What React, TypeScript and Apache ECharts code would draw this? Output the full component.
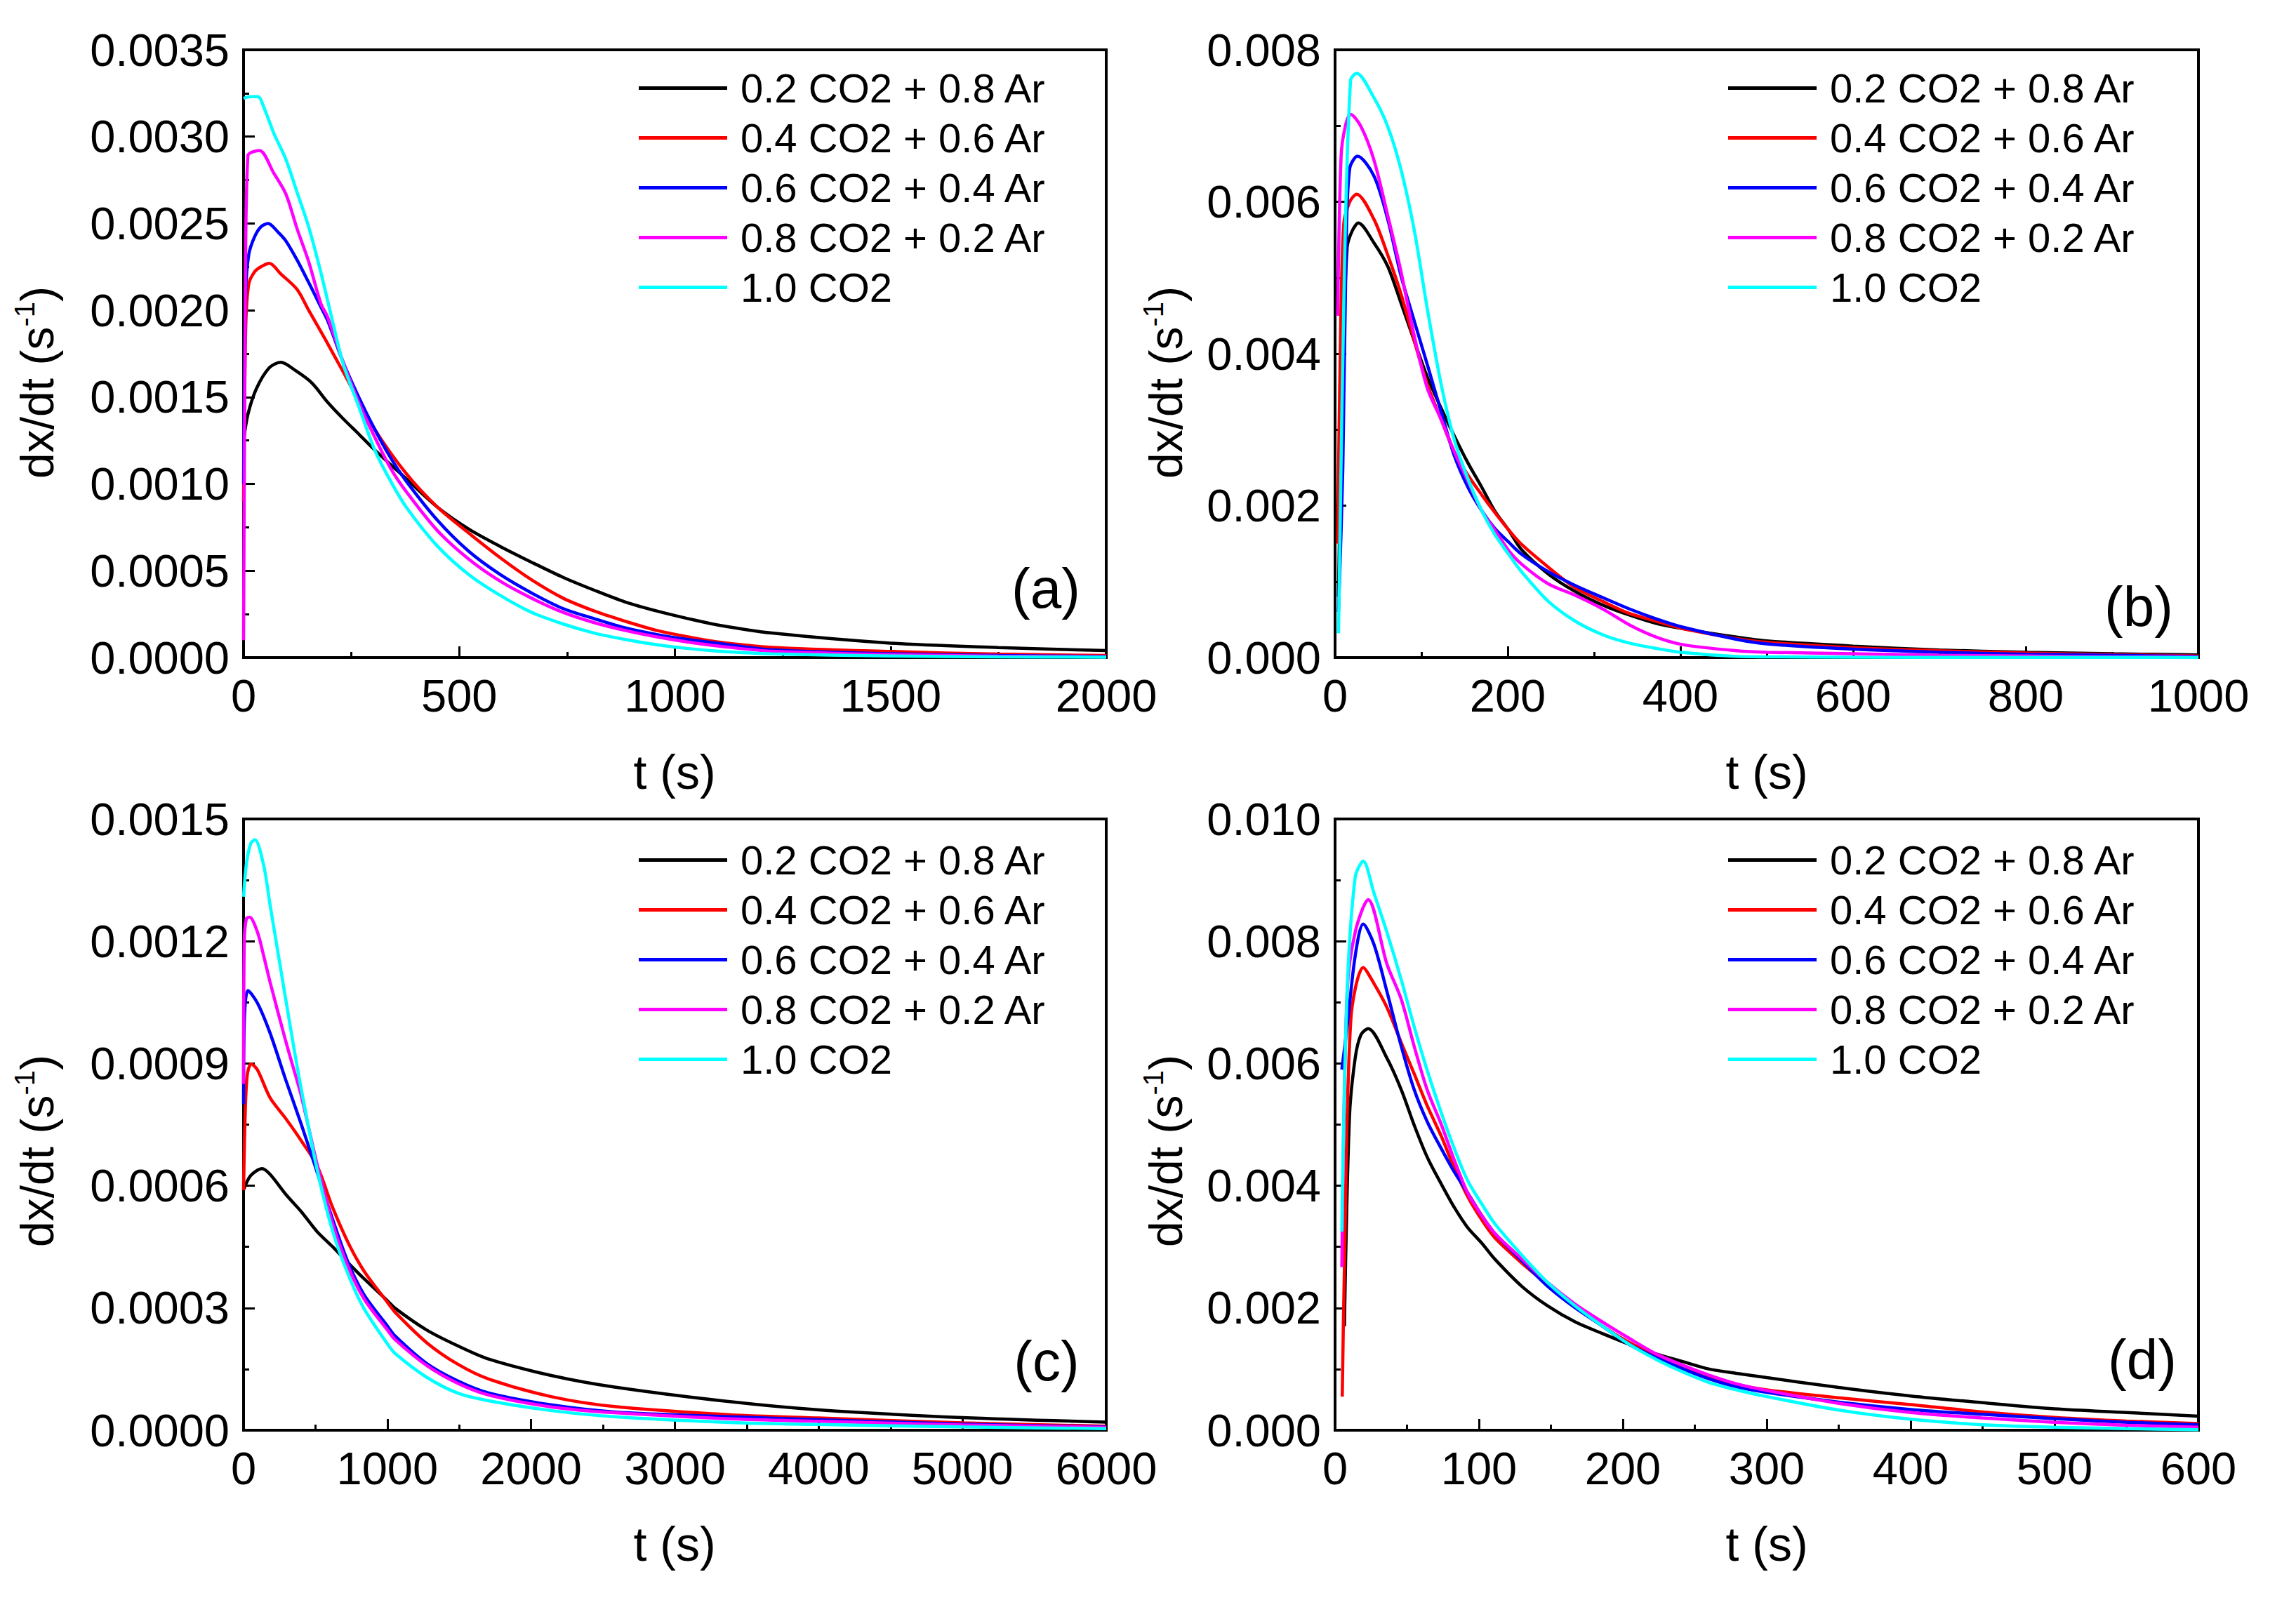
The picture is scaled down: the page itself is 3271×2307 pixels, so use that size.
import React, { useEffect, useRef } from "react";
import * as echarts from "echarts";

// ---------- data ----------
const SERIES_NAMES = ["0.2 CO2 + 0.8 Ar", "0.4 CO2 + 0.6 Ar", "0.6 CO2 + 0.4 Ar", "0.8 CO2 + 0.2 Ar", "1.0 CO2"];
const COLORS = ["#000000", "#ff0000", "#0000ff", "#ff00ff", "#00ffff"];
const PANEL_LABELS = ["(a)", "(b)", "(c)", "(d)"];
const X_TITLE = "t (s)";

// panel (a): [t (s), dx/dt x 1e-3]
const A_BLACK = [[0,1.25],[10,1.4],[30,1.55],[60,1.67],[86,1.7],[122,1.65],[159,1.58],[195,1.47],[231,1.375],[268,1.285],[304,1.196],[377,1.03],[449,0.867],[522,0.74],[595,0.64],[667,0.55],[740,0.463],[813,0.388],[885,0.32],[958,0.268],[1031,0.224],[1103,0.186],[1225,0.141],[1500,0.083],[1750,0.058],[2000,0.04]];
const A_RED = [[0,0.9],[5,1.9],[12,2.15],[25,2.22],[40,2.25],[60,2.27],[86,2.21],[124,2.12],[151,2.0],[190,1.83],[231,1.645],[304,1.315],[377,1.06],[449,0.867],[522,0.717],[595,0.575],[667,0.449],[740,0.343],[813,0.268],[885,0.209],[958,0.156],[1031,0.119],[1103,0.089],[1225,0.059],[1500,0.035],[1750,0.02],[2000,0.012]];
const A_BLUE = [[0,1.0],[5,2.1],[12,2.32],[25,2.42],[40,2.48],[57,2.5],[80,2.45],[98,2.4],[124,2.29],[151,2.16],[179,2.02],[195,1.94],[231,1.7],[268,1.495],[304,1.315],[341,1.15],[377,1.016],[449,0.792],[522,0.612],[595,0.478],[667,0.373],[740,0.283],[813,0.224],[885,0.171],[958,0.133],[1031,0.104],[1103,0.081],[1225,0.044],[1500,0.022],[1750,0.012],[2000,0.006]];
const A_MAGENTA = [[0,0.1],[4,2.0],[10,2.89],[37,2.92],[70,2.79],[98,2.67],[124,2.47],[151,2.28],[179,2.04],[195,1.96],[231,1.7],[268,1.465],[304,1.27],[341,1.09],[377,0.956],[449,0.732],[522,0.567],[595,0.44],[667,0.343],[740,0.261],[813,0.201],[885,0.156],[958,0.119],[1031,0.089],[1103,0.066],[1225,0.036],[1500,0.017],[1750,0.008],[2000,0.004]];
const A_CYAN = [[0,3.22],[15,3.23],[33,3.23],[50,3.15],[70,3.02],[98,2.87],[124,2.68],[151,2.48],[179,2.22],[205,1.95],[231,1.69],[268,1.44],[304,1.196],[341,1.016],[377,0.867],[449,0.643],[522,0.478],[595,0.358],[667,0.261],[740,0.194],[813,0.141],[885,0.104],[958,0.074],[1031,0.052],[1103,0.036],[1225,0.021],[1500,0.009],[1750,0.004],[2000,0.002]];

// panel (b): [t (s), dx/dt x 1e-3]
const B_BLACK = [[4,0.8],[8,3.5],[14,5.4],[20,5.62],[27,5.72],[45,5.46],[61,5.15],[76,4.68],[92,4.16],[107,3.69],[123,3.28],[138,2.92],[154,2.56],[170,2.24],[185,1.93],[201,1.68],[216,1.42],[247,1.1],[278,0.87],[310,0.69],[341,0.56],[372,0.45],[403,0.38],[465,0.27],[500,0.22],[600,0.15],[700,0.1],[800,0.07],[900,0.05],[1000,0.035]];
const B_RED = [[3,1.5],[6,4.0],[10,5.7],[17,6.0],[25,6.1],[45,5.77],[61,5.3],[76,4.8],[92,4.16],[107,3.59],[123,3.13],[138,2.71],[154,2.4],[170,2.14],[185,1.91],[201,1.68],[216,1.49],[247,1.19],[278,0.92],[310,0.74],[341,0.58],[372,0.48],[403,0.38],[465,0.25],[500,0.2],[600,0.13],[700,0.09],[800,0.06],[900,0.04],[1000,0.02]];
const B_BLUE = [[4,0.6],[9,2.5],[13,5.5],[17,6.44],[26,6.6],[45,6.34],[61,5.77],[76,5.04],[92,4.42],[107,3.85],[123,3.23],[138,2.66],[154,2.24],[170,1.93],[185,1.7],[201,1.52],[216,1.36],[247,1.13],[278,0.95],[310,0.79],[341,0.64],[372,0.51],[403,0.4],[465,0.24],[500,0.18],[600,0.11],[700,0.07],[800,0.045],[900,0.03],[1000,0.015]];
const B_MAGENTA = [[3,4.5],[7,6.6],[12,7.0],[18,7.15],[30,6.99],[45,6.55],[61,5.82],[76,5.1],[92,4.22],[107,3.54],[123,3.13],[138,2.71],[154,2.32],[170,1.93],[185,1.68],[201,1.41],[216,1.23],[247,0.97],[278,0.82],[310,0.64],[341,0.43],[372,0.27],[403,0.17],[465,0.09],[500,0.07],[600,0.05],[700,0.03],[800,0.02],[900,0.01],[1000,0.007]];
const B_CYAN = [[4,0.32],[11,5.2],[18,7.6],[25,7.69],[45,7.37],[61,6.99],[76,6.44],[92,5.61],[107,4.58],[123,3.59],[138,2.87],[154,2.35],[170,1.93],[185,1.62],[201,1.36],[216,1.13],[247,0.74],[278,0.48],[310,0.3],[341,0.19],[372,0.12],[403,0.066],[465,0.015],[500,0.01],[600,0.005],[800,0.002],[1000,0.001]];

// panel (c): [t (s), dx/dt x 1e-4]
const C_BLACK = [[0,5.9],[50,6.25],[129,6.42],[184,6.28],[293,5.79],[402,5.36],[510,4.88],[620,4.5],[729,4.1],[837,3.72],[1000,3.18],[1055,2.99],[1273,2.46],[1490,2.07],[1709,1.74],[2145,1.34],[2580,1.06],[3383,0.7],[4000,0.5],[5000,0.31],[6000,0.2]];
const C_RED = [[0,5.89],[10,7.6],[25,8.7],[53,8.99],[97,8.84],[184,8.16],[293,7.65],[402,7.1],[510,6.5],[620,5.46],[729,4.59],[837,3.91],[1000,3.14],[1055,2.89],[1273,2.15],[1490,1.62],[1709,1.25],[2145,0.82],[2580,0.58],[3383,0.38],[4000,0.3],[5000,0.18],[6000,0.1]];
const C_BLUE = [[0,8.0],[5,10.0],[31,10.79],[97,10.48],[184,9.75],[293,8.6],[402,7.5],[510,6.35],[620,5.17],[729,4.1],[837,3.33],[1000,2.56],[1055,2.31],[1273,1.64],[1490,1.21],[1709,0.91],[2145,0.62],[2580,0.45],[3383,0.33],[4000,0.26],[5000,0.15],[6000,0.08]];
const C_MAGENTA = [[0,8.5],[5,12.0],[20,12.56],[42,12.59],[97,12.22],[140,11.64],[184,11.0],[293,9.55],[358,8.75],[402,8.2],[510,6.55],[620,5.07],[729,4.0],[837,3.23],[1000,2.46],[1055,2.22],[1273,1.59],[1490,1.15],[1709,0.86],[2145,0.57],[2580,0.43],[3383,0.28],[4000,0.22],[5000,0.13],[6000,0.07]];
const C_CYAN = [[0,13.09],[20,13.9],[50,14.4],[79,14.49],[140,13.86],[184,12.9],[293,10.58],[358,9.22],[402,8.36],[510,6.42],[620,4.88],[729,3.81],[837,2.99],[1000,2.12],[1055,1.88],[1273,1.3],[1490,0.91],[1709,0.72],[2145,0.48],[2580,0.33],[3383,0.19],[4000,0.14],[5000,0.08],[6000,0.04]];

// panel (d): [t (s), dx/dt x 1e-3]
const D_BLACK = [[6.5,1.7],[10,5.12],[14,6.09],[18,6.47],[23,6.57],[36,6.09],[46,5.57],[55,4.99],[64,4.47],[74,4.02],[83,3.64],[92,3.32],[102,3.06],[111,2.8],[130,2.35],[148,2.03],[167,1.77],[186,1.58],[204,1.41],[223,1.25],[242,1.12],[260,1.0],[279,0.93],[300,0.86],[350,0.7],[400,0.56],[450,0.45],[500,0.35],[550,0.29],[600,0.23]];
const D_RED = [[5,0.55],[6.5,2.67],[11,6.73],[19.6,7.57],[27,7.31],[36,6.92],[46,6.34],[55,5.83],[64,5.31],[74,4.8],[83,4.28],[92,3.83],[102,3.44],[111,3.15],[130,2.73],[148,2.38],[167,2.03],[186,1.7],[204,1.44],[223,1.22],[242,1.03],[260,0.87],[279,0.75],[300,0.66],[350,0.53],[400,0.42],[450,0.3],[500,0.21],[550,0.15],[600,0.11]];
const D_BLUE = [[4.7,5.9],[8.4,6.6],[14,7.76],[19.6,8.28],[27,7.95],[36,7.18],[46,6.28],[55,5.57],[64,5.05],[74,4.6],[83,4.22],[92,3.89],[102,3.51],[111,3.22],[130,2.77],[148,2.35],[167,2.0],[186,1.7],[204,1.41],[223,1.19],[242,1.0],[260,0.84],[279,0.71],[300,0.62],[350,0.46],[400,0.34],[450,0.26],[500,0.19],[550,0.13],[600,0.09]];
const D_MAGENTA = [[4.7,2.67],[8.4,7.18],[14,8.15],[23,8.68],[36,7.63],[46,7.05],[55,6.28],[64,5.57],[74,4.99],[83,4.41],[92,3.89],[102,3.51],[111,3.22],[130,2.8],[148,2.41],[167,2.06],[186,1.77],[204,1.51],[223,1.25],[242,1.06],[260,0.9],[279,0.76],[300,0.65],[350,0.44],[400,0.29],[450,0.2],[500,0.13],[550,0.08],[600,0.05]];
const D_CYAN = [[4.7,3.25],[8.4,7.18],[14,9.05],[19.6,9.31],[27,8.79],[36,8.15],[46,7.37],[55,6.6],[64,5.89],[74,5.18],[83,4.6],[92,4.09],[102,3.7],[111,3.38],[130,2.86],[148,2.41],[167,2.03],[186,1.7],[204,1.41],[223,1.16],[242,0.95],[260,0.78],[279,0.66],[300,0.55],[350,0.33],[400,0.18],[450,0.09],[500,0.05],[550,0.025],[600,0.01]];

const PANEL_CURVES = [
  [A_BLACK, A_RED, A_BLUE, A_MAGENTA, A_CYAN],
  [B_BLACK, B_RED, B_BLUE, B_MAGENTA, B_CYAN],
  [C_BLACK, C_RED, C_BLUE, C_MAGENTA, C_CYAN],
  [D_BLACK, D_RED, D_BLUE, D_MAGENTA, D_CYAN],
];
const VALUE_SCALE = [1e-3, 1e-3, 1e-4, 1e-3];
const X_MAX = [2000, 1000, 6000, 600];
const X_INTERVAL = [500, 200, 1000, 100];
const Y_MAX = [0.0035, 0.008, 0.0015, 0.01];
const Y_INTERVAL = [0.0005, 0.002, 0.0003, 0.002];
const Y_DECIMALS = [4, 3, 4, 3];

// ---------- layout ----------
const W = 3271;
const H = 2307;
const FONT = "'Liberation Sans', Arial, sans-serif";
const GRIDS = [
  { left: 347, top: 71, width: 1229, height: 866 },
  { left: 1902, top: 71, width: 1230, height: 866 },
  { left: 347, top: 1167, width: 1229, height: 871 },
  { left: 1902, top: 1167, width: 1230, height: 871 },
];
const LEGEND_POS = [
  { left: 910, top: 90 },
  { left: 2462, top: 90 },
  { left: 910, top: 1190 },
  { left: 2462, top: 1190 },
];
const Y_TITLE_POS = [
  { x: 53, y: 545 },
  { x: 1661, y: 545 },
  { x: 53, y: 1640 },
  { x: 1661, y: 1640 },
];
const X_TITLE_POS = [
  { x: 961, y: 1100 },
  { x: 2517, y: 1100 },
  { x: 961, y: 2200 },
  { x: 2517, y: 2200 },
];
const LABEL_POS = [
  { x: 1490, y: 838 },
  { x: 3047, y: 864 },
  { x: 1491, y: 1939 },
  { x: 3052, y: 1937 },
];

function buildOption() {
  const grid = GRIDS.map((g) => ({
    ...g,
    show: true,
    borderColor: "#000",
    borderWidth: 4,
    backgroundColor: "transparent",
  }));

  const tickStyle = { color: "#000", width: 3 };
  const xAxis = GRIDS.map((_, i) => ({
    type: "value",
    gridIndex: i,
    min: 0,
    max: X_MAX[i],
    interval: X_INTERVAL[i],
    axisLine: { show: true, onZero: false, lineStyle: { color: "#000", width: 4 } },
    axisTick: { show: true, inside: true, length: 16, lineStyle: tickStyle },
    minorTick: { show: true, splitNumber: 2, length: 8, lineStyle: tickStyle },
    splitLine: { show: false },
    minorSplitLine: { show: false },
    axisLabel: {
      color: "#000",
      fontSize: 65,
      fontFamily: FONT,
      margin: 22,
      formatter: (v: number) => String(v),
    },
  }));
  const yAxis = GRIDS.map((_, i) => ({
    type: "value",
    gridIndex: i,
    min: 0,
    max: Y_MAX[i],
    interval: Y_INTERVAL[i],
    axisLine: { show: true, onZero: false, lineStyle: { color: "#000", width: 4 } },
    axisTick: { show: true, inside: true, length: 16, lineStyle: tickStyle },
    minorTick: { show: true, splitNumber: 2, length: 8, lineStyle: tickStyle },
    splitLine: { show: false },
    minorSplitLine: { show: false },
    axisLabel: {
      color: "#000",
      fontSize: 65,
      fontFamily: FONT,
      margin: 20,
      formatter: (v: number) => v.toFixed(Y_DECIMALS[i]),
    },
  }));

  const series: any[] = [];
  PANEL_CURVES.forEach((curves, i) => {
    curves.forEach((pts, k) => {
      series.push({
        type: "line",
        name: SERIES_NAMES[k],
        xAxisIndex: i,
        yAxisIndex: i,
        data: pts.map(([t, v]) => [t, v * VALUE_SCALE[i]]),
        symbol: "none",
        showSymbol: false,
        smooth: 0.3,
        lineStyle: { color: COLORS[k], width: 4.5 },
        itemStyle: { color: COLORS[k] },
        z: 2 + k,
      });
    });
  });

  const legend = LEGEND_POS.map((p) => ({
    orient: "vertical",
    left: p.left,
    top: p.top,
    padding: 0,
    itemGap: 0,
    icon: "rect",
    itemWidth: 126,
    itemHeight: 5,
    selectedMode: false,
    data: SERIES_NAMES,
    textStyle: {
      color: "#000",
      fontSize: 58,
      fontFamily: FONT,
      lineHeight: 71,
      padding: [0, 0, 0, 14],
    },
  }));

  const graphic: any[] = [];
  Y_TITLE_POS.forEach((p) => {
    graphic.push({
      type: "text",
      x: p.x,
      y: p.y,
      rotation: Math.PI / 2,
      style: {
        text: "{m|dx/dt (s}{s|-1}{m|)}",
        rich: {
          m: { fontSize: 66, fontFamily: FONT, fill: "#000", lineHeight: 76 },
          s: { fontSize: 40, fontFamily: FONT, fill: "#000", verticalAlign: "top", lineHeight: 40 },
        },
        align: "center",
        verticalAlign: "middle",
        textAlign: "center",
        textVerticalAlign: "middle",
      },
    });
  });
  X_TITLE_POS.forEach((p) => {
    graphic.push({
      type: "text",
      x: p.x,
      y: p.y,
      style: {
        text: X_TITLE,
        fontSize: 68,
        fontFamily: FONT,
        fill: "#000",
        align: "center",
        verticalAlign: "middle",
        textAlign: "center",
        textVerticalAlign: "middle",
      },
    });
  });
  LABEL_POS.forEach((p, i) => {
    graphic.push({
      type: "text",
      x: p.x,
      y: p.y,
      style: {
        text: PANEL_LABELS[i],
        fontSize: 80,
        fontFamily: FONT,
        fill: "#000",
        align: "center",
        verticalAlign: "middle",
        textAlign: "center",
        textVerticalAlign: "middle",
      },
    });
  });

  return {
    animation: false,
    backgroundColor: "#ffffff",
    grid,
    xAxis,
    yAxis,
    legend,
    series,
    graphic,
  };
}

export default function App() {
  const ref = useRef<HTMLDivElement | null>(null);
  useEffect(() => {
    if (!ref.current) return;
    const chart = echarts.init(ref.current, null, { renderer: "svg", width: W, height: H });
    chart.setOption(buildOption() as any);
    return () => chart.dispose();
  }, []);
  return (
    <div
      ref={ref}
      style={{ position: "absolute", left: 0, top: 0, width: W + "px", height: H + "px", background: "#fff" }}
    />
  );
}
